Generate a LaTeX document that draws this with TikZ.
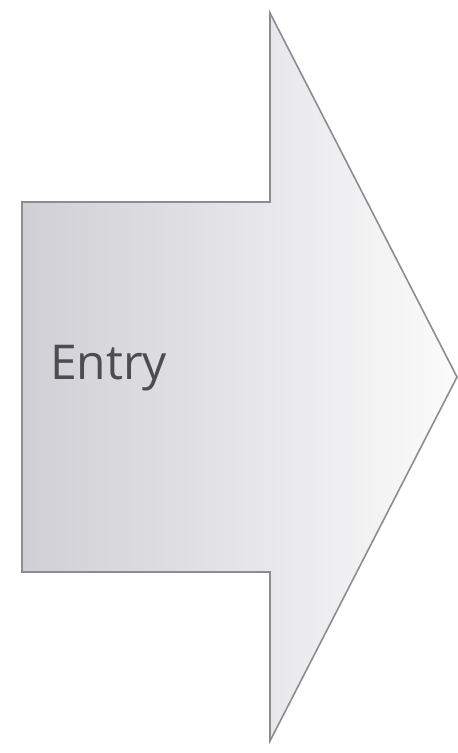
\documentclass[tikz,border=0pt]{standalone}
\usepackage{fontspec}
\setmainfont{Open Sans}
\definecolor{arrowleft}{RGB}{207,207,213}
\definecolor{arrowright}{RGB}{251,251,251}
\definecolor{arrowline}{RGB}{140,140,146}
\definecolor{txtgrey}{RGB}{77,77,80}
\tikzset{
  arrowbody/.style={draw=arrowline, line width=1.6pt, line join=miter, left color=arrowleft, right color=arrowright},
  labeltext/.style={font=\fontsize{48}{52}\selectfont, text=txtgrey, anchor=base west, inner sep=0pt}
}
\begin{document}
\begin{tikzpicture}[x=1pt,y=1pt]
\useasboundingbox (0,0) rectangle (458,753);
\coordinate (tl) at (22,551);
\coordinate (nt) at (270,551);
\coordinate (ht) at (270,740);
\coordinate (tip) at (457,376);
\coordinate (hb) at (270,12);
\coordinate (nb) at (270,181);
\coordinate (bl) at (22,181);
\draw[arrowbody] (tl) -- (nt) -- (ht) -- (tip) -- (hb) -- (nb) -- (bl) -- cycle;
\node[labeltext] (entry) at (50,373) {Entry};
\end{tikzpicture}
\end{document}
